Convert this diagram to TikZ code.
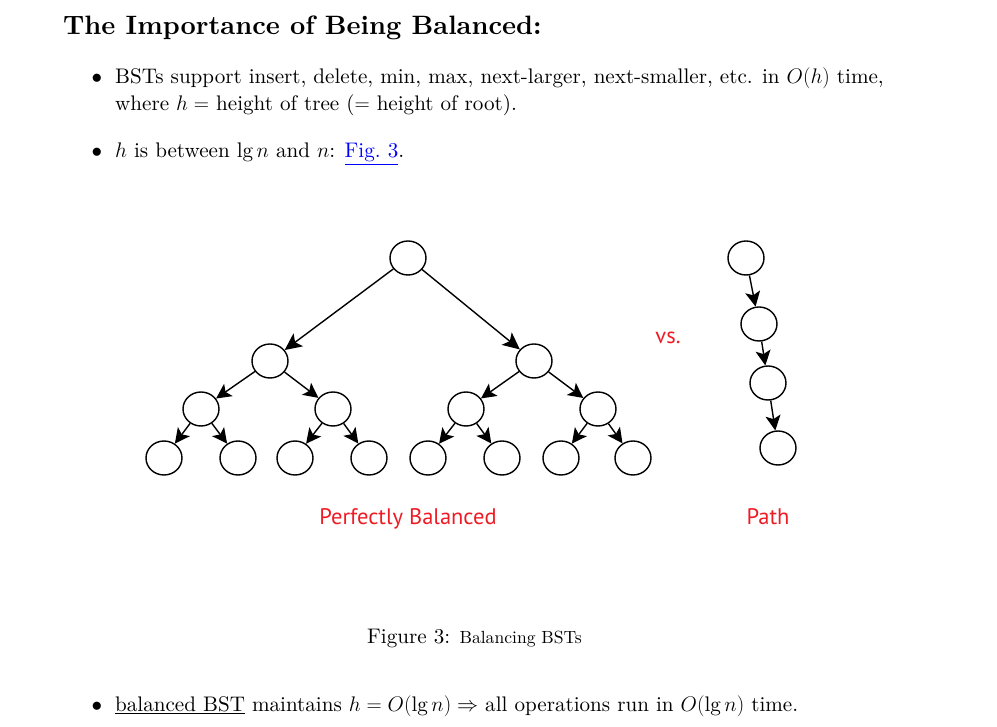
\RequirePackage{fix-cm}
\documentclass[tikz,border=0pt]{standalone}
\usepackage{fontspec}
\setmainfont{lmroman10-regular.otf}[BoldFont=lmroman10-bold.otf, ItalicFont=lmroman10-italic.otf]
\usetikzlibrary{shapes.geometric,arrows.meta}
\newfontfamily\labelfont{PT Sans}
\definecolor{labelred}{RGB}{237,28,36}
\definecolor{linkblue}{RGB}{0,0,255}
\begin{document}
\begin{tikzpicture}[x=1pt,y=-1pt,
  bst/.style={draw, ellipse, minimum width=36pt, minimum height=34pt, inner sep=0pt, line width=1.4pt},
  arr/.style={line width=1.4pt, -{Stealth[length=17pt,width=16pt,inset=4pt]}},
  arrs/.style={line width=1.4pt, -{Stealth[length=15pt,width=15pt,inset=3.5pt]}},
  body/.style={anchor=base west, inner sep=0pt, font=\fontsize{21.1}{27}\selectfont},
  bul/.style={anchor=base, inner sep=0pt, font=\fontsize{21.1}{27}\selectfont},
  redlbl/.style={text=labelred, inner sep=0pt, anchor=base, font=\labelfont\fontsize{22.5}{26}\selectfont}]
\useasboundingbox (0,0) rectangle (997,727);

% heading and bullet text
\node[anchor=base west, inner sep=0pt, font=\fontsize{26.6}{30}\selectfont\bfseries] (title) at (63,35) {The Importance of Being Balanced:};
\node[bul] (b1) at (97,84) {$\bullet$};
\node[body] (t1) at (115,84) {BSTs support insert, delete, min, max, next-larger, next-smaller, etc. in $O(h)$ time,};
\node[body] (t2) at (115,111) {where $h=$ height of tree ($=$ height of root).};
\node[bul] (b2) at (97,158) {$\bullet$};
\node[body] (t3) at (115,158) {$h$ is between $\lg n$ and $n$: {\color{linkblue}\underline{Fig.~3}}.};

% perfectly balanced tree
\node[bst] (r)   at (408,258) {};
\node[bst] (a)   at (270,361) {};
\node[bst] (b)   at (534,361) {};
\node[bst] (aa)  at (201,409) {};
\node[bst] (ab)  at (333,409) {};
\node[bst] (ba)  at (466,409) {};
\node[bst] (bb)  at (598,409) {};
\node[bst] (aaa) at (164,458) {};
\node[bst] (aab) at (238,458) {};
\node[bst] (aba) at (295,458) {};
\node[bst] (abb) at (369,458) {};
\node[bst] (baa) at (428,458) {};
\node[bst] (bab) at (502,458) {};
\node[bst] (bba) at (561,458) {};
\node[bst] (bbb) at (633,458) {};

\draw[arr] (r) -- (a);
\draw[arr] (r) -- (b);
\foreach \p/\c in {a/aa, a/ab, b/ba, b/bb, aa/aaa, aa/aab, ab/aba, ab/abb, ba/baa, ba/bab, bb/bba, bb/bbb}
  \draw[arrs] (\p) -- (\c);

% path
\node[bst] (p1) at (746,258) {};
\node[bst] (p2) at (759,324) {};
\node[bst] (p3) at (768,383) {};
\node[bst] (p4) at (778,448) {};
\draw[arrs] (p1) -- (p2);
\draw[arrs] (p2) -- (p3);
\draw[arrs] (p3) -- (p4);

\node[redlbl] (vs) at (668,344) {vs.};
\node[redlbl] (pb) at (408,524) {Perfectly Balanced};
\node[redlbl] (pl) at (768,524) {Path};

% caption and closing bullet
\node[anchor=base west, inner sep=0pt, font=\fontsize{21.1}{24}\selectfont] (cap) at (367,643) {Figure 3: {\fontsize{17.6}{20}\selectfont Balancing BSTs}};
\node[bul] (b3) at (97,711) {$\bullet$};
\node[body] (t4) at (115,711) {\underline{balanced BST} maintains $h=O(\lg n)\Rightarrow$ all operations run in $O(\lg n)$ time.};
\end{tikzpicture}
\end{document}
